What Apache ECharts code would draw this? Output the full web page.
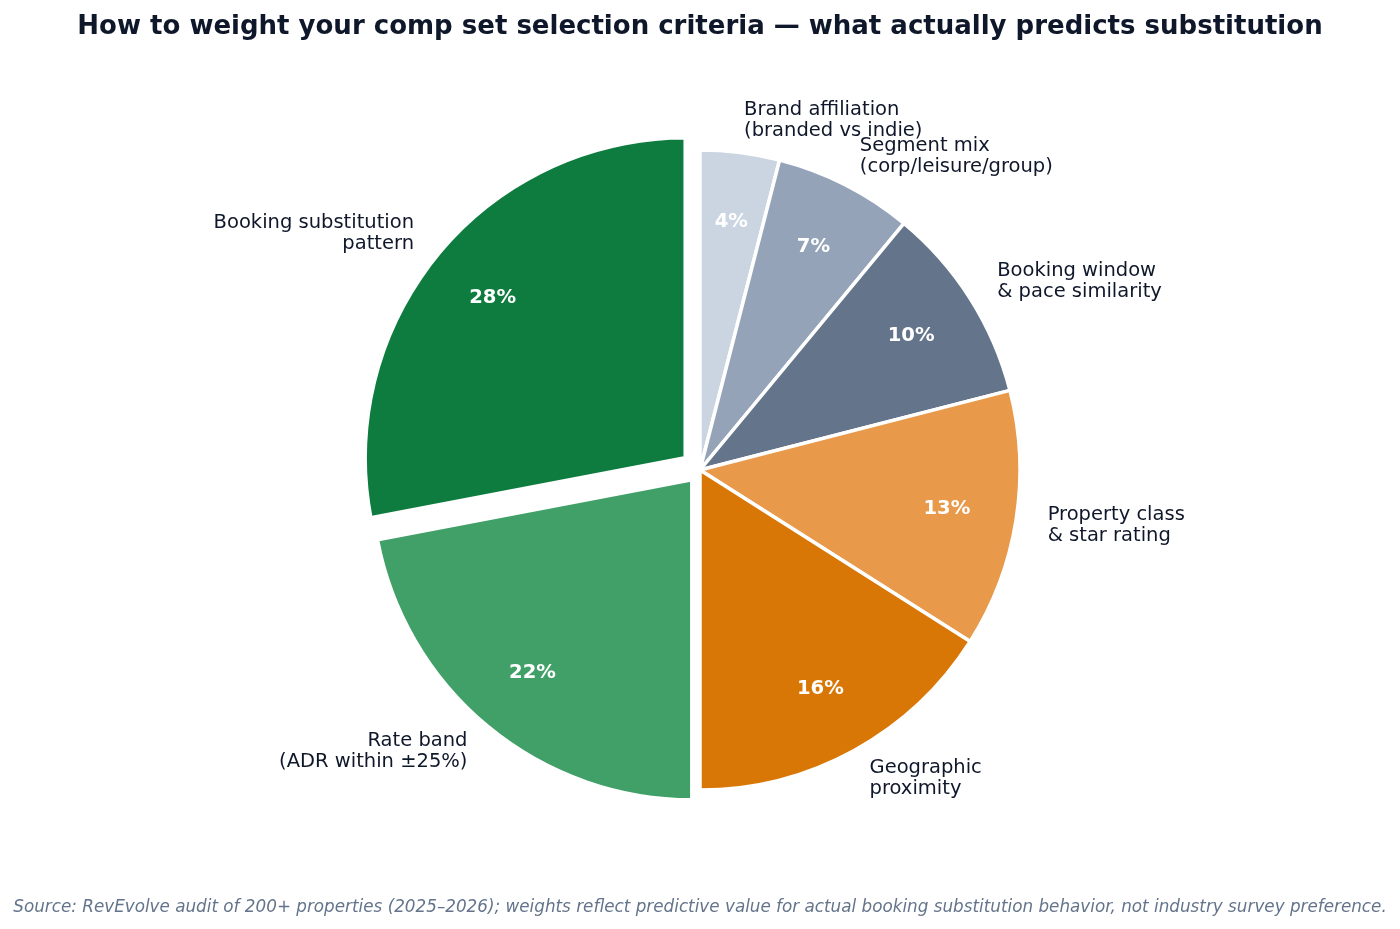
<!DOCTYPE html>
<html>
<head>
<meta charset="utf-8">
<script src="https://cdn.jsdelivr.net/npm/echarts@6/dist/echarts.min.js"></script>
<style>
  html, body { margin: 0; background: #fff; }
  #main { width: 1400px; height: 929px; }
</style>
</head>
<body>
<div id="main"></div>
<script>
// data, clockwise from 12 o'clock
var categories = [
    'Brand affiliation\n(branded vs indie)',
    'Segment mix\n(corp/leisure/group)',
    'Booking window\n& pace similarity',
    'Property class\n& star rating',
    'Geographic\nproximity',
    'Rate band\n(ADR within ±25%)',
    'Booking substitution\npattern'
];
var weights = [4, 7, 10, 13, 16, 22, 28];

// styling
var colors = ['#cbd5e1', '#94a3b8', '#64748b', '#e8994a', '#d97706', '#41a068', '#0d7c3e'];
var explode = [0, 0, 0, 0, 0, 12.8, 19.2];   // px pulled out from centre

var FONT = 'DejaVu Sans';
var CX = 700, CY = 470, R = 320;

var chart = echarts.init(document.getElementById('main'));

// one pie per slice: selectedOffset is per series, and labels in one
// series would otherwise get hidden when they overlap
function pieSeries(idx, inner) {
    var offset = explode[idx];
    return {
        type: 'pie',
        center: [CX, CY],
        radius: inner ? [200, 294] : [0, R],
        startAngle: 90,
        clockwise: true,
        silent: true,
        animation: false,
        avoidLabelOverlap: false,
        minShowLabelAngle: 0,
        labelLayout: { hideOverlap: false },
        selectedMode: offset ? 'multiple' : false,
        selectedOffset: offset,
        z: inner ? 3 : 2,
        label: inner ? {
            position: 'inside',
            formatter: function (p) { return p.value + '%'; },
            color: '#fff',
            fontFamily: FONT,
            fontWeight: 'bold',
            fontSize: 19.6
        } : {
            position: 'outside',
            alignTo: 'none',
            distanceToLabelLine: 0,
            overflow: 'none',
            color: '#0f172a',
            fontFamily: FONT,
            fontSize: 19.5,
            lineHeight: 21
        },
        labelLine: { show: false, length: 32, length2: 0 },
        data: weights.map(function (v, i) {
            var on = i === idx;
            return {
                name: categories[i],
                value: v,
                selected: on && offset > 0,
                itemStyle: (on && !inner)
                    ? { color: colors[i], borderColor: '#fff', borderWidth: 3.5 }
                    : { color: 'rgba(0,0,0,0)', borderWidth: 0 },
                label: { show: on }
            };
        })
    };
}

var series = [];
weights.forEach(function (v, i) {
    series.push(pieSeries(i, false));
    series.push(pieSeries(i, true));
});

var option = {
    backgroundColor: '#fff',
    animation: false,
    title: [{
        text: 'How to weight your comp set selection criteria \u2014 what actually predicts substitution',
        left: 'center',
        top: 9,
        textStyle: { fontFamily: FONT, fontSize: 26, fontWeight: 'bold', color: '#0f172a' }
    }, {
        text: 'Source: RevEvolve audit of 200+ properties (2025\u20132026); weights reflect predictive value for actual booking substitution behavior, not industry survey preference.',
        left: 'center',
        top: 894,
        textStyle: { fontFamily: FONT, fontSize: 16.8, fontStyle: 'italic', fontWeight: 'normal', color: '#64748b' }
    }],
    series: series
};
chart.setOption(option);
</script>
</body>
</html>
